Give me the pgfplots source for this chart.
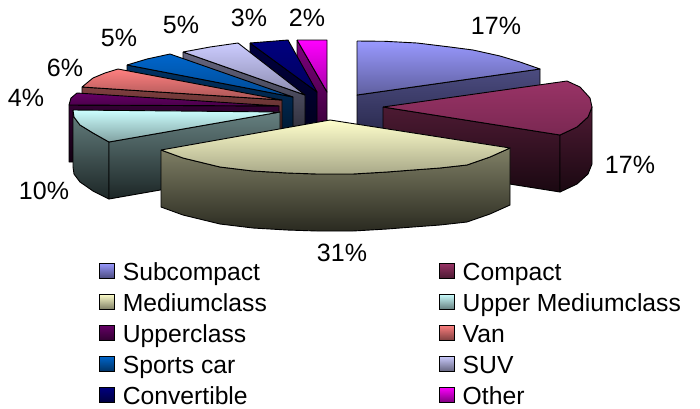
\documentclass[border=0pt]{standalone}
\usepackage{fontspec}
\setmainfont{Liberation Sans}
\usepackage{pgfplots}
\pgfplotsset{compat=1.18}
\definecolor{aT}{HTML}{9999FF}\definecolor{aB}{HTML}{5F5F9E}\definecolor{aW}{HTML}{4C4C80}\definecolor{aD}{HTML}{202040}
\definecolor{bT}{HTML}{993366}\definecolor{bB}{HTML}{7A2852}\definecolor{bW}{HTML}{4D1A33}\definecolor{bD}{HTML}{1A0811}
\definecolor{cT}{HTML}{FFFFCC}\definecolor{cB}{HTML}{A8A888}\definecolor{cW}{HTML}{808066}\definecolor{cD}{HTML}{2A2A20}
\definecolor{dT}{HTML}{CCFFFF}\definecolor{dB}{HTML}{80A0A0}\definecolor{dW}{HTML}{668080}\definecolor{dD}{HTML}{1C2626}
\definecolor{eT}{HTML}{660066}\definecolor{eB}{HTML}{4A004A}\definecolor{eW}{HTML}{330033}\definecolor{eD}{HTML}{110011}
\definecolor{fT}{HTML}{FF8080}\definecolor{fB}{HTML}{A85555}\definecolor{fW}{HTML}{804040}\definecolor{fD}{HTML}{2A1515}
\definecolor{gT}{HTML}{0066CC}\definecolor{gB}{HTML}{004A94}\definecolor{gW}{HTML}{003366}\definecolor{gD}{HTML}{001122}
\definecolor{hT}{HTML}{CCCCFF}\definecolor{hB}{HTML}{8A8AAD}\definecolor{hW}{HTML}{666680}\definecolor{hD}{HTML}{22222A}
\definecolor{iT}{HTML}{000080}\definecolor{iB}{HTML}{00005E}\definecolor{iW}{HTML}{000040}\definecolor{iD}{HTML}{000015}
\definecolor{jT}{HTML}{FF00FF}\definecolor{jB}{HTML}{A800A8}\definecolor{jW}{HTML}{800080}\definecolor{jD}{HTML}{2A002A}
\pgfplotsset{
  face/.style 2 args={forget plot,no markers,sharp plot,draw=black,line width=0.9pt,line join=round,top color=#1,bottom color=#2},
  sw/.style={legend image code/.code={\draw[draw=black,line width=0.8pt,top color=#1T,bottom color=#1W] (0pt,2pt) rectangle (15pt,17pt);}},
}
\begin{document}
\begin{tikzpicture}
\useasboundingbox (0,0) rectangle (700pt,408pt);
\begin{axis}[
  scale only axis,width=700pt,height=408pt,
  xmin=0,xmax=700,ymin=0,ymax=408,y dir=reverse,
  hide axis,clip=false,
  legend columns=2,
  legend cell align=left,
  legend style={at={(axis cs:99,262)},anchor=north west,draw=none,fill=none,inner sep=0pt,outer sep=0pt,
    font=\fontsize{24.7}{30}\selectfont,
    nodes={inner sep=0pt,text height=18pt,text depth=6pt,anchor=base west},
    /tikz/row sep=7pt,
    /tikz/column 1/.style={column sep=8pt},
    /tikz/column 2/.style={column sep=172pt},
    /tikz/column 3/.style={column sep=8pt},
  },
]
% Subcompact
\addplot[face={aW}{aD}] coordinates {(357,95)(540,69)(540,126)(357,152)(357,95)};
\addplot[face={aT}{aB}] coordinates {(357,41)(385,41.3)(417,43)(450,47)(473,50)(500,56)(520,62)(540,69)(357,95)(357,41)};
% Other
\addplot[face={jW}{jD}] coordinates {(297,40)(327,92)(327,149)(297,97)(297,40)};
\addplot[face={jT}{jB}] coordinates {(297,40)(327,40)(327,92)(297,40)};
% Convertible
\addplot[face={iW}{iD}] coordinates {(250,43)(317,92)(317,149)(250,100)(250,43)};
\addplot[face={iT}{iB}] coordinates {(250,43)(288,40)(317,92)(250,43)};
% SUV
\addplot[face={hW}{hD}] coordinates {(183,52)(305,95)(305,152)(183,109)(183,52)};
\addplot[face={hT}{hB}] coordinates {(183,52)(210,47)(238,43)(305,95)(183,52)};
% Sports car
\addplot[face={gW}{gD}] coordinates {(127,65)(293,97)(293,154)(127,122)(127,65)};
\addplot[face={gT}{gB}] coordinates {(127,65)(147,59)(170,54)(293,97)(127,65)};
% Van
\addplot[face={fW}{fD}] coordinates {(82,87)(282,100)(282,157)(82,144)(82,87)};
\addplot[face={fT}{fB}] coordinates {(82,87)(93,78)(105,73)(118,69)(282,100)(82,87)};
% Upperclass
\addplot[face={eW}{eD}] coordinates {(69,105)(279,106)(279,163)(69,162)(69,105)};
\addplot[face={eT}{eB}] coordinates {(69,105)(71,98)(77,93)(279,106)(69,105)};
% Upper Mediumclass
\addplot[face={dW}{dD}] coordinates {(73,110)(74,117)(80,125)(93,133)(109,142)(109,199)(93,191)(80,182)(74,174)(73,167)(73,110)};
\addplot[face={dW}{dD}] coordinates {(109,142)(280,112)(280,169)(109,199)(109,142)};
\addplot[face={dT}{dB}] coordinates {(73,110)(280,112)(109,142)(93,133)(80,125)(74,117)(73,110)};
% Compact
\addplot[face={bW}{bD}] coordinates {(383,107)(560,135)(560,192)(383,164)(383,107)};
\addplot[face={bW}{bD}] coordinates {(560,135)(577,127)(588,117)(592,107)(592,164)(588,174)(577,184)(560,192)(560,135)};
\addplot[face={bT}{bB}] coordinates {(383,107)(567,81)(580,87)(590,98)(592,107)(588,117)(577,127)(560,135)(383,107)};
% Mediumclass
\addplot[face={cW}{cD}] coordinates {(161,150)(183,158)(220,167)(253,171)(287,173)(317,174)(353,174)(387,172)(413,170)(440,168)(467,165)(490,157)(510,148)(510,205)(490,214)(467,222)(440,225)(413,227)(387,229)(353,231)(317,231)(287,230)(253,228)(220,224)(183,215)(161,207)(161,150)};
\addplot[face={cT}{cB}] coordinates {(161,150)(330,120)(510,148)(490,157)(467,165)(440,168)(413,170)(387,172)(353,174)(317,174)(287,173)(253,171)(220,167)(183,158)(161,150)};
% Percent labels
\node[font=\fontsize{25}{28}\selectfont] at (axis cs:496,26) {17\%};
\node[font=\fontsize{25}{28}\selectfont] at (axis cs:630,165) {17\%};
\node[font=\fontsize{25}{28}\selectfont] at (axis cs:342,253) {31\%};
\node[font=\fontsize{25}{28}\selectfont] at (axis cs:44,191) {10\%};
\node[font=\fontsize{25}{28}\selectfont] at (axis cs:26,98) {4\%};
\node[font=\fontsize{25}{28}\selectfont] at (axis cs:65,68) {6\%};
\node[font=\fontsize{25}{28}\selectfont] at (axis cs:119,38) {5\%};
\node[font=\fontsize{25}{28}\selectfont] at (axis cs:181,25) {5\%};
\node[font=\fontsize{25}{28}\selectfont] at (axis cs:249,18) {3\%};
\node[font=\fontsize{25}{28}\selectfont] at (axis cs:307,18) {2\%};
% Legend
\addlegendimage{sw=a}\addlegendentry{Subcompact}
\addlegendimage{sw=b}\addlegendentry{Compact}
\addlegendimage{sw=c}\addlegendentry{Mediumclass}
\addlegendimage{sw=d}\addlegendentry{Upper Mediumclass}
\addlegendimage{sw=e}\addlegendentry{Upperclass}
\addlegendimage{sw=f}\addlegendentry{Van}
\addlegendimage{sw=g}\addlegendentry{Sports car}
\addlegendimage{sw=h}\addlegendentry{SUV}
\addlegendimage{sw=i}\addlegendentry{Convertible}
\addlegendimage{sw=j}\addlegendentry{Other}
\end{axis}
\end{tikzpicture}
\end{document}
